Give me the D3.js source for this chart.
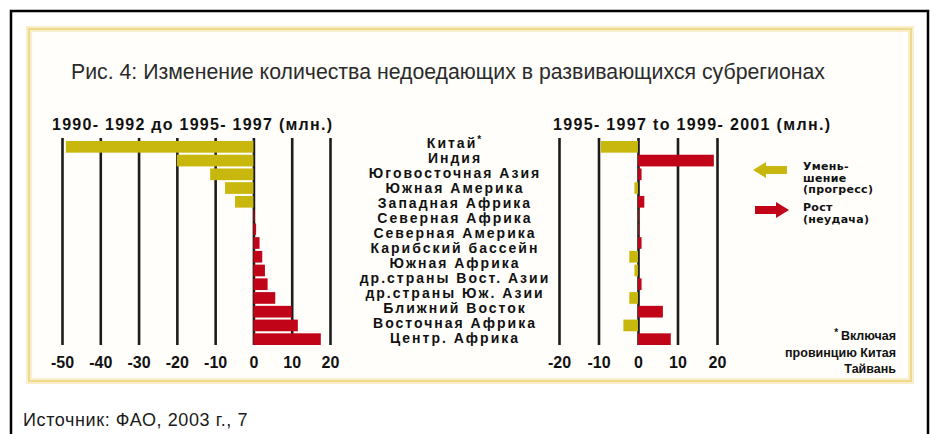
<!DOCTYPE html>
<html>
<head>
<meta charset="utf-8">
<title>Рис. 4</title>
<script src="https://cdn.jsdelivr.net/npm/d3@7"></script>
<style>
  html, body { margin: 0; padding: 0; background: #fff; }
  svg { display: block; }
  .bold { font-family: "Liberation Sans", Arial, sans-serif; font-weight: bold; fill: #111; }
</style>
</head>
<body>
<div id="chart"></div>
<script>
// region labels (the Russian edition prints 14 names for 15 bar rows)
var regions = ["Китай", "Индия", "Юговосточная Азия", "Южная Америка", "Западная Африка",
  "Северная Африка", "Северная Америка", "Карибский бассейн", "Южная Африка",
  "др.страны Вост. Азии", "др.страны Юж. Азии", "Ближний Восток",
  "Восточная Африка", "Центр. Африка"];

// change in number of undernourished, millions, one value per bar row
var change9092to9597 = [-49, -20, -11.3, -7.4, -4.8, 0.3, 0.7, 1.6, 2.3, 3.0, 3.7, 5.7, 10.0, 11.6, 17.6];
var change9597to9901 = [-9.4, 19.2, 0.9, -0.9, 1.6, 0.2, 0.2, 0.9, -2.2, -0.9, 0.9, -2.2, 6.3, -3.7, 8.3];

var leftTicks = [-50, -40, -30, -20, -10, 0, 10, 20];
var rightTicks = [-20, -10, 0, 10, 20];

var titleText = "Рис. 4: Изменение количества недоедающих в развивающихся субрегионах";
var leftTitle = "1990- 1992 до 1995- 1997 (млн.)";
var rightTitle = "1995- 1997 to 1999- 2001 (млн.)";
var legendLines = [["Умень-", "шение", "(прогресс)"], ["Рост", "(неудача)"]];
var noteLines = ["Включая", "провинцию Китая", "Тайвань"];
var source = "Источник: ФАО, 2003 г., 7";

var width = 930, height = 434;
var yellow = "#c8b70c", red = "#c20419";
var gridTop = 138, gridBottom = 345;

var svg = d3.select("#chart").append("svg")
    .attr("width", width)
    .attr("height", height);

// outer black frame and soft yellow panel
svg.append("rect")
    .attr("x", 11).attr("y", 11)
    .attr("width", 917).attr("height", 440)
    .attr("fill", "none").attr("stroke", "#000").attr("stroke-width", 2.5);
svg.append("rect")
    .attr("x", 29).attr("y", 29)
    .attr("width", 882).attr("height", 352)
    .attr("fill", "#fffefb").attr("stroke", "#f8eecb").attr("stroke-width", 6);
svg.append("rect")
    .attr("x", 29).attr("y", 29)
    .attr("width", 882).attr("height", 352)
    .attr("fill", "none").attr("stroke", "#efd98a").attr("stroke-width", 2);

svg.append("text")
    .attr("x", 71).attr("y", 79)
    .attr("textLength", 754).attr("lengthAdjust", "spacingAndGlyphs")
    .style("font-family", "'Liberation Sans Narrow', 'Liberation Sans', sans-serif")
    .style("font-size", "22.5px")
    .style("fill", "#2a2a2a")
    .text(titleText);

var rows = d3.scaleBand()
    .domain(d3.range(change9092to9597.length))
    .range([141, 345])
    .paddingInner(0.15);

var labelY = d3.scalePoint()
    .domain(regions)
    .range([143, 338]);

var xLeft = d3.scaleLinear().domain([-50, 20]).range([62, 330]);
var xRight = d3.scaleLinear().domain([-20, 20]).range([559, 717]);

function panel(x, ticks, values, title, titleX, titleW) {
  var g = svg.append("g");

  var axis = d3.axisBottom(x)
      .tickValues(ticks)
      .tickSize(-(gridBottom - gridTop))
      .tickPadding(12)
      .tickFormat(function(d) { return String(d); });

  var ax = g.append("g")
      .attr("transform", "translate(0," + gridBottom + ")")
      .call(axis);
  ax.select(".domain").remove();
  ax.selectAll("line").attr("stroke", "#1c1c1c").attr("stroke-width", 2.6);
  ax.selectAll("text")
      .attr("class", "bold")
      .style("font-size", "16px")
      .style("fill", "#111");

  g.selectAll("rect.bar")
    .data(values)
    .join("rect")
      .attr("class", "bar")
      .attr("x", function(d) { return x(Math.min(0, d)); })
      .attr("y", function(d, i) { return rows(i); })
      .attr("width", function(d) { return Math.abs(x(d) - x(0)); })
      .attr("height", rows.bandwidth())
      .attr("fill", function(d) { return d < 0 ? yellow : red; });

  g.append("text")
      .attr("class", "bold")
      .attr("x", titleX).attr("y", 130)
      .attr("textLength", titleW).attr("lengthAdjust", "spacing")
      .style("font-size", "16px")
      .text(title);
}

panel(xLeft, leftTicks, change9092to9597, leftTitle, 52, 280);
panel(xRight, rightTicks, change9597to9901, rightTitle, 553, 277);

// region names in the middle column
var names = svg.append("g").attr("class", "bold")
    .style("font-size", "14px")
    .style("letter-spacing", "2px")
    .attr("text-anchor", "middle");
names.selectAll("text")
  .data(regions)
  .join("text")
    .attr("x", 455)
    .attr("y", function(d) { return labelY(d) + 5; })
    .each(function(d, i) {
      var t = d3.select(this);
      t.append("tspan").text(d);
      if (i === 0) t.append("tspan").attr("dy", -5).style("font-size", "10px").text("*");
    });

// legend arrows
function arrow(x0, y0, dir, color) {
  var p = d3.path();
  var len = 34, head = 13, shaft = 4, half = 8;
  var s = dir;              // +1 points right, -1 points left
  var tip = x0 + (s > 0 ? len : 0), tail = x0 + (s > 0 ? 0 : len);
  var neck = tip - s * head;
  p.moveTo(tail, y0 - shaft);
  p.lineTo(neck, y0 - shaft);
  p.lineTo(neck, y0 - half);
  p.lineTo(tip, y0);
  p.lineTo(neck, y0 + half);
  p.lineTo(neck, y0 + shaft);
  p.lineTo(tail, y0 + shaft);
  p.closePath();
  svg.append("path").attr("d", p.toString()).attr("fill", color);
}
arrow(753, 170, -1, yellow);
arrow(755, 210, 1, red);

var legend = svg.append("g").attr("class", "bold")
    .style("font-family", "'DejaVu Sans', sans-serif")
    .style("font-size", "11px")
    .style("letter-spacing", "0.3px");
legend.selectAll("text.lg0")
  .data(legendLines[0])
  .join("text")
    .attr("class", "lg0")
    .attr("x", 803)
    .attr("y", function(d, i) { return 170 + i * 11.5; })
    .text(function(d) { return d; });
legend.selectAll("text.lg1")
  .data(legendLines[1])
  .join("text")
    .attr("class", "lg1")
    .attr("x", 803)
    .attr("y", function(d, i) { return 211 + i * 12; })
    .text(function(d) { return d; });

var note = svg.append("g").attr("class", "bold")
    .style("font-family", "'Liberation Sans Narrow', 'Liberation Sans', sans-serif")
    .style("font-size", "12.5px")
    .attr("text-anchor", "end");
note.selectAll("text")
  .data(noteLines)
  .join("text")
    .attr("x", 896)
    .attr("y", function(d, i) { return 340 + i * 16.5; })
    .each(function(d, i) {
      var t = d3.select(this);
      if (i === 0) {
        t.append("tspan").attr("dy", -4).style("font-size", "10px").text("* ");
        t.append("tspan").attr("dy", 4).text(d);
      } else {
        t.text(d);
      }
    });

svg.append("text")
    .attr("x", 23).attr("y", 426)
    .style("font-family", "'Liberation Sans', Arial, sans-serif")
    .style("font-size", "18px")
    .style("letter-spacing", "0.6px")
    .style("fill", "#1a1a1a")
    .text(source);
</script>
</body>
</html>
